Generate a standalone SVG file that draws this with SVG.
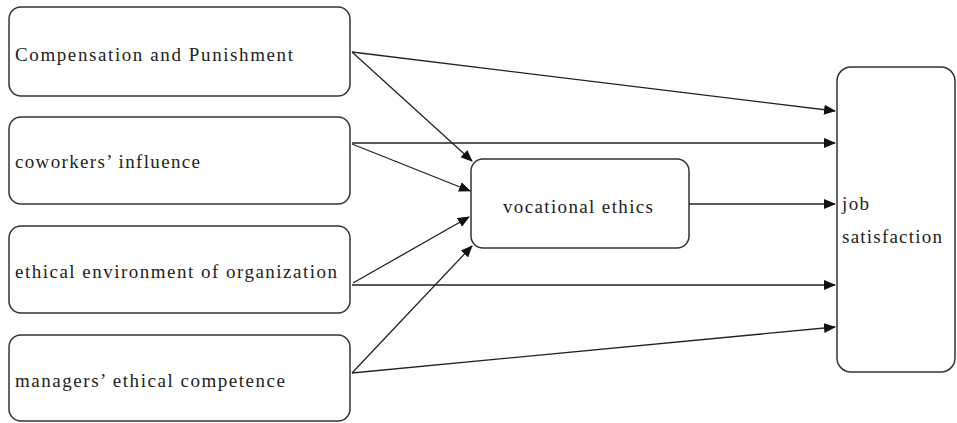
<svg xmlns="http://www.w3.org/2000/svg" width="957" height="423" viewBox="0 0 957 423">
<style>
.box{fill:#fff;stroke:#333;stroke-width:1.5}
.t{font-family:"Liberation Serif","Times New Roman",serif;font-size:19px;fill:#222}
.c{stroke:#222;stroke-width:1.3;fill:none;marker-end:url(#ah)}
</style>
<defs>
<marker id="ah" markerWidth="12" markerHeight="10" refX="11" refY="5" orient="auto" markerUnits="userSpaceOnUse">
<path d="M0,0 L12,5 L0,10 Z" fill="#111"/>
</marker>
</defs>
<rect width="957" height="423" fill="#fff"/>
<g id="n1"><rect class="box" x="9" y="7" width="341" height="89" rx="12"/><text class="t" x="15" y="61" textLength="278" lengthAdjust="spacing">Compensation and Punishment</text></g>
<g id="n2"><rect class="box" x="9" y="117" width="341" height="87" rx="12"/><text class="t" x="15" y="168" textLength="185" lengthAdjust="spacing">coworkers’ influence</text></g>
<g id="n3"><rect class="box" x="9" y="226" width="341" height="87" rx="12"/><text class="t" x="15" y="278" textLength="322" lengthAdjust="spacing">ethical environment of organization</text></g>
<g id="n4"><rect class="box" x="9" y="335" width="341" height="86" rx="12"/><text class="t" x="15" y="387" textLength="270" lengthAdjust="spacing">managers’ ethical competence</text></g>
<g id="n5"><rect class="box" x="471" y="159" width="218" height="89" rx="12"/><text class="t" x="503" y="213" textLength="150" lengthAdjust="spacing">vocational ethics</text></g>
<g id="n6"><rect class="box" x="837" y="67" width="118" height="305" rx="14"/><text class="t" x="842" y="210" textLength="27" lengthAdjust="spacing">job</text><text class="t" x="842" y="243" textLength="100" lengthAdjust="spacing">satisfaction</text></g>
<g id="connectors">
<line class="c" x1="352" y1="52" x2="835" y2="111"/>
<line class="c" x1="352" y1="52" x2="472" y2="161"/>
<line class="c" x1="352" y1="143" x2="835" y2="143"/>
<line class="c" x1="352" y1="144" x2="470" y2="191"/>
<line class="c" x1="353" y1="283" x2="469" y2="217"/>
<line class="c" x1="352" y1="285" x2="835" y2="285"/>
<line class="c" x1="352" y1="373" x2="472" y2="246"/>
<line class="c" x1="352" y1="373" x2="835" y2="327"/>
<line class="c" x1="689" y1="204" x2="835" y2="204"/>
</g>
</svg>
